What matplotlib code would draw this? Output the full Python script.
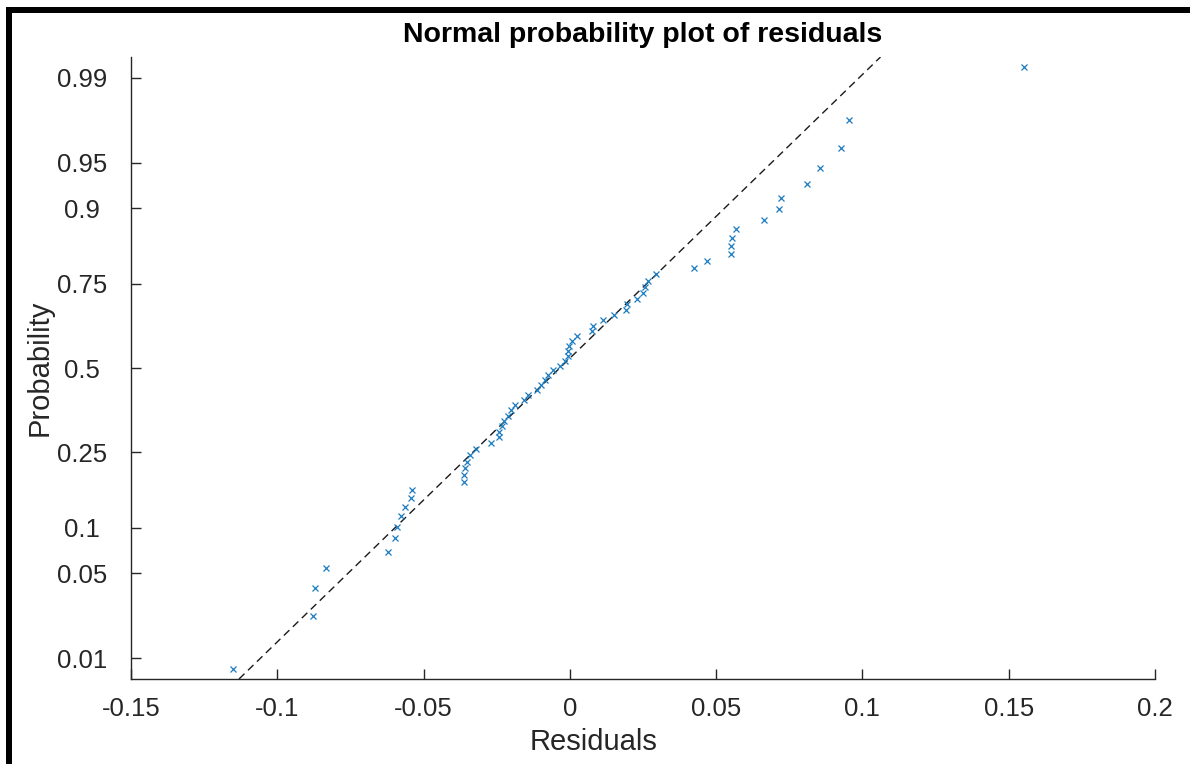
import matplotlib
matplotlib.use("Agg")
import matplotlib.pyplot as plt
from matplotlib.patches import Rectangle
from statistics import NormalDist
import numpy as np

# ---- data (sorted residuals) ----
residuals = [
    -0.1151, -0.0877, -0.0872, -0.0834, -0.0621, -0.0596, -0.0590, -0.0577,
    -0.0564, -0.0543, -0.0541, -0.0363, -0.0361, -0.0358, -0.0351, -0.0342,
    -0.0320, -0.0268, -0.0243, -0.0243, -0.0233, -0.0225, -0.0211, -0.0202,
    -0.0188, -0.0157, -0.0143, -0.0114, -0.0099, -0.0085, -0.0075, -0.0059,
    -0.0032, -0.0015, -0.0008, -0.0006, -0.0003, 0.0006, 0.0026, 0.0074,
    0.0078, 0.0112, 0.0151, 0.0191, 0.0197, 0.0231, 0.0251, 0.0256,
    0.0268, 0.0293, 0.0424, 0.0469, 0.0550, 0.0550, 0.0555, 0.0568,
    0.0662, 0.0714, 0.0721, 0.0811, 0.0855, 0.0927, 0.0953, 0.1552,
]
prob_ticks = [0.01, 0.05, 0.1, 0.25, 0.5, 0.75, 0.9, 0.95, 0.99]
prob_tick_labels = ["0.01", "0.05", "0.1", "0.25", "0.5", "0.75", "0.9", "0.95", "0.99"]
x_ticks = [-0.15, -0.1, -0.05, 0, 0.05, 0.1, 0.15, 0.2]
x_tick_labels = ["-0.15", "-0.1", "-0.05", "0", "0.05", "0.1", "0.15", "0.2"]
title_text = "Normal probability plot of residuals"
x_label = "Residuals"
y_label = "Probability"

plt.rcParams['font.family'] = ['Liberation Sans', 'DejaVu Sans']
plt.rcParams['axes.unicode_minus'] = False

nd = NormalDist()
x = np.sort(np.array(residuals))
n = len(x)
p = (np.arange(1, n + 1) - 0.5) / n
z = np.array([nd.inv_cdf(v) for v in p])

# quartile reference line (as MATLAB normplot)
q1 = np.percentile(x, 25, method='hazen')
q3 = np.percentile(x, 75, method='hazen')
z1, z3 = nd.inv_cdf(0.25), nd.inv_cdf(0.75)
slope = (q3 - q1) / (z3 - z1)
mu = q1 - slope * z1

zlim = 2.494
zl = np.array([-zlim, zlim])

fig = plt.figure(figsize=(11.9, 7.64), dpi=100)
ax = fig.add_axes([131 / 1190, 85 / 764, 1024 / 1190, 622 / 764])

axis_col = '#262626'
blue = '#1a7cc0'

ax.plot(mu + slope * zl, zl, color='#1a1a1a', lw=1.0, dashes=(5.5, 3.5), zorder=2)
ax.plot(x, z, linestyle='none', marker='x', color=blue, markersize=5,
        markeredgewidth=0.9, zorder=3)

ax.set_xlim(-0.15, 0.2)
ax.set_ylim(-zlim, zlim)
ax.set_xticks(x_ticks)
ax.set_xticklabels(x_tick_labels)
ax.set_yticks([nd.inv_cdf(v) for v in prob_ticks])
ax.set_yticklabels(prob_tick_labels)

for s in ['top', 'right']:
    ax.spines[s].set_visible(False)
for s in ['left', 'bottom']:
    ax.spines[s].set_color(axis_col)
    ax.spines[s].set_linewidth(1.0)
ax.tick_params(direction='in', length=7, width=1.0, colors=axis_col,
               labelsize=18.5)
ax.tick_params(axis='x', pad=13)
ax.tick_params(axis='y', pad=35)
for lab in ax.get_yticklabels():
    lab.set_horizontalalignment('center')

ax.set_title(title_text, fontsize=20.5, fontweight='bold', color='#000000', pad=11)
ax.set_xlabel(x_label, fontsize=21, color=axis_col, labelpad=6)
ax.xaxis.set_label_coords((594 - 131) / 1024, -0.0)
ax.xaxis.label.set_verticalalignment('top')
ax.set_ylabel(y_label, fontsize=21, color=axis_col)
ax.yaxis.set_label_coords(-(131 - 40) / 1024, 0.5)
ax.yaxis.label.set_verticalalignment('center')

# place x label by data/axes coords (below tick labels)
ax.xaxis.set_label_coords((594 - 131) / 1024, -(728 - 679) / 622)

# frame of the screenshot (thick black top and left edges)
fig.add_artist(Rectangle((6 / 1190, 0), 6 / 1190, 1 - 7 / 764,
                         transform=fig.transFigure, color='black', lw=0))
fig.add_artist(Rectangle((6 / 1190, 1 - 13 / 764), 1 - 6 / 1190, 6 / 764,
                         transform=fig.transFigure, color='black', lw=0))

fig.savefig("out.png", dpi=100)
